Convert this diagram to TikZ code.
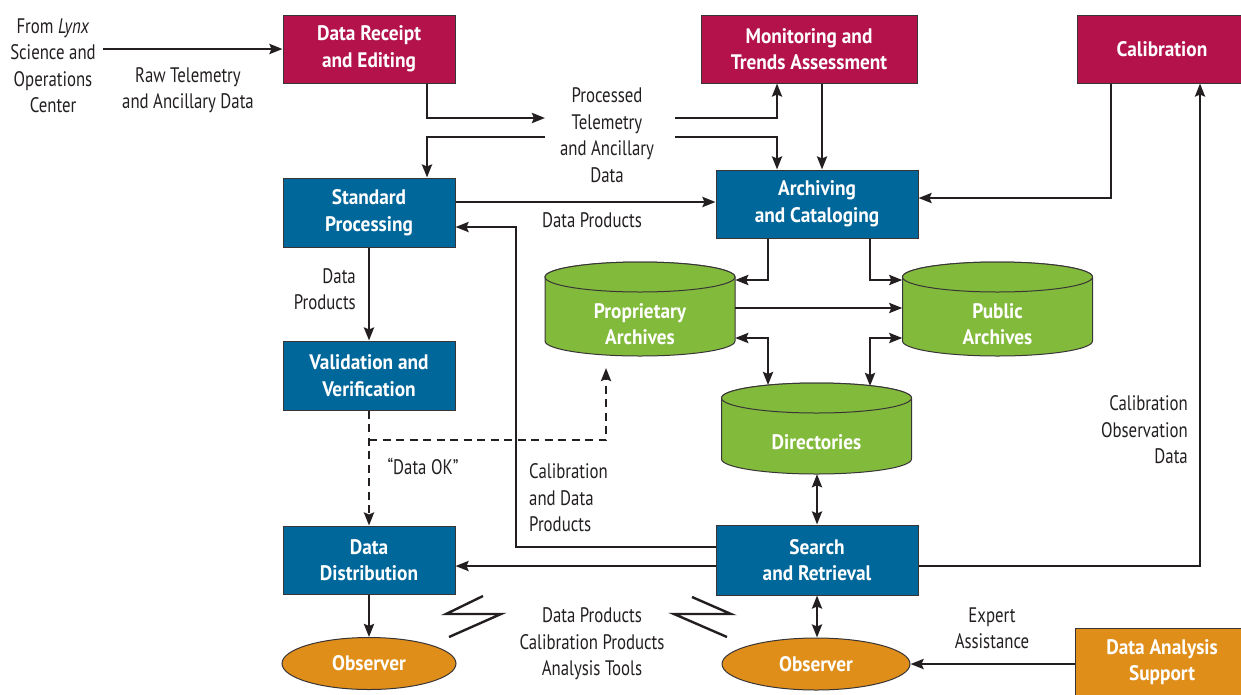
\documentclass[tikz,border=0pt]{standalone}
\usepackage{fontspec}
\setmainfont{PT Sans}[FakeStretch=0.8,BoldFeatures={FakeStretch=0.92}]
\usetikzlibrary{arrows.meta,shapes.geometric,calc}
\definecolor{cred}{HTML}{B3124A}
\definecolor{cblue}{HTML}{00679A}
\definecolor{cgreen}{HTML}{82BA3C}
\definecolor{corange}{HTML}{E08E1A}
\definecolor{cink}{HTML}{231F20}
\tikzset{
  txt/.style={font=\fontsize{21}{26.5}\selectfont, text=cink, align=center, inner sep=0pt},
  box/.style={draw=cink!90, line width=1pt, inner sep=0pt, text=white, align=center,
    font=\fontsize{21}{26.5}\selectfont\bfseries},
  redbox/.style={box, fill=cred},
  bluebox/.style={box, fill=cblue},
  orangebox/.style={box, fill=corange},
  obsnode/.style={box, ellipse, fill=corange},
  cylfill/.style={fill=cgreen, draw=cink!90, line width=1pt},
  arr/.style={draw=cink, line width=2.6pt, -{Stealth[length=13pt,width=10pt,inset=2pt]}},
  darr/.style={draw=cink, line width=2.6pt, {Stealth[length=13pt,width=10pt,inset=2pt]}-{Stealth[length=13pt,width=10pt,inset=2pt]}},
  dsh/.style={dash pattern=on 8pt off 5.5pt},
  bolt/.style={draw=cink, line width=2.4pt, line join=miter},
}
% #1 name, #2 cx, #3 top, #4 bottom, #5 half width, #6 text y, #7 text
\newcommand\cylnode[7]{%
  \path[cylfill] (#2-#5,#3+15) -- (#2-#5,#4-15)
    arc[start angle=180,end angle=360,x radius=#5pt,y radius=15pt]
    -- (#2+#5,#3+15)
    arc[start angle=0,end angle=180,x radius=#5pt,y radius=15pt] -- cycle;
  \draw[cylfill] (#2,#3+15) ellipse[x radius=#5pt,y radius=15pt];
  \node[inner sep=0pt, minimum width={2*#5*1pt}, minimum height={(#4-#3)*1pt}] (#1) at (#2,{(#3+#4)/2}) {};
  \node[box, draw=none] at (#2,#6) {#7};
}
\begin{document}
\begin{tikzpicture}[x=1pt,y=-1pt]
\useasboundingbox (0,0) rectangle (1241,694);

% boxes
\node[redbox, minimum width=172pt, minimum height=68pt] (drec) at (369,49) {Data Receipt\\and Editing};
\node[redbox, minimum width=216pt, minimum height=68pt] (mon) at (809,49) {Monitoring and\\Trends Assessment};
\node[redbox, minimum width=170pt, minimum height=68pt] (cal) at (1162,49) {Calibration};
\node[bluebox, minimum width=172pt, minimum height=69pt] (stdp) at (369,212.5) {Standard\\Processing};
\node[bluebox, minimum width=202pt, minimum height=68pt] (arch) at (817,204) {Archiving\\and Cataloging};
\node[bluebox, minimum width=172pt, minimum height=69pt] (valid) at (369,375.5) {Validation and\\Verification};
\node[bluebox, minimum width=172pt, minimum height=68pt] (ddist) at (369,560) {Data\\Distribution};
\node[bluebox, minimum width=202pt, minimum height=70pt] (srch) at (817,560) {Search\\and Retrieval};
\node[obsnode, minimum width=174pt, minimum height=52pt] (obsL) at (369,663.5) {Observer};
\node[obsnode, minimum width=188pt, minimum height=52pt] (obsR) at (816,664) {Observer};
\node[orangebox, minimum width=174pt, minimum height=68pt] (das) at (1162,662) {Data Analysis\\Support};

% cylinders
\cylnode{prop}{640}{262}{356}{95}{324}{Proprietary\\Archives}
\cylnode{pub}{997.5}{262}{356}{95}{324}{Public\\Archives}
\cylnode{dir}{816.5}{383}{474}{95}{442}{Directories}

% labels
\node[txt] (lynx) at (53,66) {From \textit{Lynx}\\Science and\\Operations\\Center};
\node[txt] (raw) at (188,90) {Raw Telemetry\\and Ancillary Data};
\node[txt] (proc) at (607,135) {Processed\\Telemetry\\and Ancillary\\Data};
\node[txt] (dp1) at (592,220) {Data Products};
\node[txt, anchor=east, align=right] (dp2) at (356,289) {Data\\Products};
\node[txt] (dok) at (423,466) {“Data OK”};
\node[txt, anchor=west, align=left] (cdp) at (529,498) {Calibration\\and Data\\Products};
\node[txt, anchor=east, align=right] (cod) at (1188,430) {Calibration\\Observation\\Data};
\node[txt] (exp) at (992,628.5) {Expert\\Assistance};
\node[txt] (tools) at (592,644) {Data Products\\Calibration Products\\Analysis Tools};

% free ends
\coordinate (lynxout) at (103,49);
\coordinate (pin1) at (545,118);
\coordinate (pin2) at (545,137);
\coordinate (pout1) at (675,118);
\coordinate (pout2) at (675,137);
\coordinate (back) at (516,227);
\coordinate (dirA) at (768,385);
\coordinate (dirB) at (870,386);
\coordinate (okbranch) at (369,440);
\coordinate (okup) at (606,368);

% connectors
\draw[arr] (lynxout) -- (drec.west);
\draw[arr] (drec.south -| 427,0) |- (pin1);
\draw[arr] (pin2) -| (stdp.north -| 427,0);
\draw[arr] (pout1) -| (mon.south -| 777,0);
\draw[arr] (pout2) -| (arch.north -| 777,0);
\draw[arr] (mon.south -| 822,0) -- (arch.north -| 822,0);
\draw[arr] (stdp.east |- 0,202) -- (arch.west |- 0,202);
\draw[arr] (cal.south -| 1111,0) |- (arch.east |- 0,198);
\draw[arr] (srch.east |- 0,566) -| (cal.south -| 1200,0);
\draw[arr] (arch.south -| 768,0) |- (prop.east |- 0,280);
\draw[arr] (arch.south -| 870,0) |- (pub.west |- 0,280);
\draw[arr] (prop.east |- 0,308) -- (pub.west |- 0,308);
\draw[darr] (prop.east |- 0,338) -| (dirA);
\draw[darr] (pub.west |- 0,338) -| (dirB);
\draw[darr] (dir.south -| 817,0) -- (srch.north -| 817,0);
\draw[darr] (srch.south -| 817,0) -- (obsR.north -| 817,0);
\draw[arr] (srch.west |- 0,547) -| (back) -- (stdp.east |- back);
\draw[arr] (srch.west |- 0,566) -- (ddist.east |- 0,566);
\draw[arr] (stdp.south) -- (valid.north);
\draw[arr, dsh] (valid.south) -- (ddist.north);
\draw[arr, dsh] (okbranch) -| (okup);
\draw[arr] (ddist.south) -- (obsL.north);
\draw[arr] (das.west |- obsR.east) -- (obsR.east);

% lightning bolts
\draw[bolt] (483,596) -- (446,614) -- (501,614) -- (449,637);
\draw[bolt] (692,597) -- (731,614) -- (674,614) -- (727,637);
\end{tikzpicture}
\end{document}
